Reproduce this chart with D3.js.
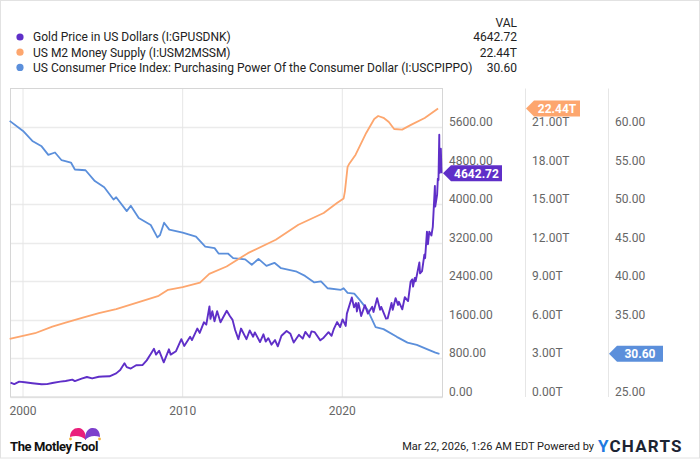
<!DOCTYPE html>
<html>
<head>
<meta charset="utf-8">
<script src="https://cdn.jsdelivr.net/npm/d3@7"></script>
<style>
  body { margin: 0; background: #fff; }
  svg { font-family: Roboto, "Noto Sans", sans-serif; }
  .tick-label { fill: #666; font-size: 12px; }
  .legend { fill: #222; font-size: 12px; }
</style>
</head>
<body>
<div id="canvas-wrapper"></div>
<script>
// series: [date, value]
var goldData = [
  ["1999-03-20", 297], ["1999-06-15", 268], ["1999-10-05", 318], ["2000-02-10", 305],
  ["2000-08-01", 285], ["2001-03-01", 264], ["2001-07-01", 268], ["2001-11-01", 290],
  ["2002-05-01", 318], ["2002-09-01", 332], ["2003-02-01", 360], ["2003-04-01", 330],
  ["2003-09-01", 380], ["2004-01-01", 415], ["2004-05-01", 385], ["2004-10-01", 420],
  ["2005-01-01", 425], ["2005-06-01", 430], ["2005-11-01", 490], ["2006-02-01", 560],
  ["2006-05-10", 700], ["2006-07-01", 620], ["2006-10-01", 590], ["2007-02-01", 660],
  ["2007-07-01", 665], ["2007-10-01", 760], ["2008-01-01", 890], ["2008-03-15", 1000],
  ["2008-05-01", 880], ["2008-07-10", 960], ["2008-10-25", 720], ["2009-02-20", 990],
  ["2009-04-01", 880], ["2009-08-01", 950], ["2009-12-01", 1200], ["2010-02-05", 1060],
  ["2010-06-20", 1250], ["2010-08-01", 1180], ["2010-12-01", 1420], ["2011-01-25", 1330],
  ["2011-05-01", 1550], ["2011-06-25", 1500], ["2011-09-05", 1880], ["2011-09-28", 1620],
  ["2011-11-10", 1780], ["2011-12-30", 1570], ["2012-02-28", 1780], ["2012-05-15", 1550],
  ["2012-10-05", 1790], ["2012-12-15", 1680], ["2013-02-15", 1600], ["2013-04-15", 1390],
  ["2013-06-28", 1200], ["2013-08-28", 1420], ["2013-12-30", 1200], ["2014-03-15", 1380],
  ["2014-06-01", 1250], ["2014-07-10", 1340], ["2014-11-05", 1140], ["2015-01-22", 1300],
  ["2015-03-15", 1150], ["2015-05-15", 1220], ["2015-07-25", 1085], ["2015-10-15", 1180],
  ["2015-12-17", 1050], ["2016-03-10", 1270], ["2016-07-06", 1370], ["2016-10-01", 1310],
  ["2016-12-15", 1130], ["2017-04-15", 1290], ["2017-07-10", 1210], ["2017-09-08", 1350],
  ["2017-12-12", 1240], ["2018-01-25", 1360], ["2018-04-10", 1345], ["2018-08-16", 1175],
  ["2018-11-01", 1230], ["2019-02-20", 1345], ["2019-05-01", 1270], ["2019-06-25", 1420],
  ["2019-09-04", 1555], ["2019-11-12", 1450], ["2020-01-08", 1610], ["2020-03-19", 1475],
  ["2020-04-15", 1730], ["2020-08-06", 2065], ["2020-09-25", 1860], ["2020-11-10", 1950],
  ["2020-11-30", 1775], ["2021-01-05", 1950], ["2021-03-08", 1680], ["2021-06-01", 1905],
  ["2021-08-09", 1730], ["2021-11-16", 1870], ["2021-12-15", 1765], ["2022-03-08", 2050],
  ["2022-05-15", 1810], ["2022-06-10", 1870], ["2022-09-28", 1625], ["2022-11-03", 1630],
  ["2023-02-01", 1950], ["2023-02-28", 1810], ["2023-05-04", 2050], ["2023-06-29", 1910],
  ["2023-07-20", 1975], ["2023-10-05", 1820], ["2023-12-01", 2070], ["2024-02-14", 1990],
  ["2024-04-12", 2390], ["2024-05-20", 2440], ["2024-06-07", 2290], ["2024-07-17", 2470],
  ["2024-08-05", 2400], ["2024-10-30", 2790], ["2024-11-14", 2565], ["2024-12-30", 2610],
  ["2025-02-20", 2950], ["2025-03-10", 2880], ["2025-04-21", 3430], ["2025-05-14", 3170],
  ["2025-06-13", 3430], ["2025-08-01", 3350], ["2025-09-02", 3530], ["2025-10-20", 4380],
  ["2025-10-28", 3950], ["2025-12-10", 4200], ["2025-12-26", 4530], ["2026-01-10", 4500],
  ["2026-01-28", 5440], ["2026-02-02", 4650], ["2026-02-12", 5050], ["2026-02-26", 4980],
  ["2026-03-05", 5150], ["2026-03-20", 4642.72]
];

var m2Data = [
  ["1999-03-01", 4.52], ["2000-10-01", 4.96], ["2001-11-01", 5.48], ["2002-09-01", 5.79],
  ["2003-10-01", 6.18], ["2004-10-01", 6.52], ["2005-11-01", 6.83], ["2007-04-01", 7.38],
  ["2008-07-01", 7.87], ["2009-02-01", 8.34], ["2010-01-01", 8.55], ["2011-02-01", 8.90],
  ["2011-09-01", 9.58], ["2012-10-01", 10.15], ["2014-02-01", 11.19], ["2015-11-01", 12.23],
  ["2017-04-01", 13.40], ["2018-11-01", 14.31], ["2019-09-01", 15.09], ["2020-02-01", 15.45],
  ["2020-03-01", 16.00], ["2020-05-01", 17.90], ["2020-06-01", 18.10], ["2020-11-01", 18.85],
  ["2021-07-01", 20.54], ["2022-01-01", 21.63], ["2022-04-01", 21.86], ["2022-08-01", 21.72],
  ["2022-12-01", 21.40], ["2023-04-01", 20.85], ["2023-10-01", 20.80], ["2024-05-01", 21.19],
  ["2025-03-01", 21.71], ["2026-01-01", 22.44]
];

var cpiData = [
  ["1999-03-01", 60.8], ["2000-01-01", 59.5], ["2000-08-01", 58.2], ["2001-03-01", 57.5],
  ["2001-08-01", 56.4], ["2002-01-01", 56.7], ["2002-06-01", 55.7], ["2003-01-01", 55.4],
  ["2003-04-01", 54.5], ["2003-12-01", 54.4], ["2004-07-01", 53.0], ["2005-02-01", 52.2],
  ["2005-09-01", 50.6], ["2005-11-01", 50.9], ["2006-07-01", 49.1], ["2006-10-01", 49.8],
  ["2007-04-01", 48.2], ["2008-01-01", 47.3], ["2008-06-01", 45.7], ["2008-08-01", 46.0],
  ["2008-11-01", 47.6], ["2009-03-01", 46.7], ["2010-01-01", 46.3], ["2010-11-01", 45.8],
  ["2011-06-01", 44.5], ["2012-01-01", 44.3], ["2012-04-01", 43.6], ["2012-11-01", 43.6],
  ["2013-03-01", 43.0], ["2013-12-01", 42.85], ["2014-05-01", 42.15], ["2014-10-01", 42.9],
  ["2015-04-01", 42.0], ["2015-10-01", 42.4], ["2016-03-01", 41.7], ["2017-02-01", 41.3],
  ["2017-09-01", 40.7], ["2018-04-01", 39.85], ["2018-09-01", 40.0], ["2019-02-01", 39.1],
  ["2019-12-01", 38.9], ["2020-02-01", 39.1], ["2020-05-01", 38.5], ["2020-10-01", 38.4],
  ["2021-02-01", 37.6], ["2021-08-01", 36.3], ["2022-02-01", 34.05], ["2022-08-01", 33.8],
  ["2023-06-01", 32.8], ["2024-02-01", 32.05], ["2024-09-01", 31.75], ["2025-06-01", 31.1],
  ["2025-11-01", 30.75], ["2026-02-01", 30.6]
];

var seriesNames = [
  "Gold Price in US Dollars (I:GPUSDNK)",
  "US M2 Money Supply (I:USM2MSSM)",
  "US Consumer Price Index: Purchasing Power Of the Consumer Dollar (I:USCPIPPO)"
];
var lastValues = ["4642.72", "22.44T", "30.60"];
var colors = ["#5f2fc8", "#fda66e", "#5b8fdb"];

var goldTicks = [0, 800, 1600, 2400, 3200, 4000, 4800, 5600];
var m2Ticks = [0, 3, 6, 9, 12, 15, 18, 21];
// 30.00 sits under the last-value tag in the original, so it is not labelled
var cpiTicks = [25, 35, 40, 45, 50, 55, 60];
var yearTicks = ["2000", "2010", "2020"];

var W = 700, H = 459;
var plot = {left: 10.5, top: 88.5, right: 442.5, bottom: 397};

var parse = d3.timeParse("%Y-%m-%d");
function prep(arr) { return arr.map(function(d) { return {date: parse(d[0]), value: d[1]}; }); }
var gold = prep(goldData), m2 = prep(m2Data), cpi = prep(cpiData);

var x = d3.scaleTime()
  .domain([parse("1999-03-20"), parse("2026-03-20")])
  .range([plot.left, plot.right - 1]);
var yGold = d3.scaleLinear().domain([0, 6400]).range([plot.bottom, plot.top]);
var yM2 = d3.scaleLinear().domain([0, 24]).range([plot.bottom, plot.top]);
var yCpi = d3.scaleLinear().domain([25, 65]).range([plot.bottom, plot.top]);

var svg = d3.select("#canvas-wrapper").append("svg")
  .attr("width", W).attr("height", H);

svg.append("rect").attr("x", 0.5).attr("y", 0.5).attr("width", W - 1).attr("height", H - 1.5)
  .attr("fill", "#fff").attr("stroke", "#e2e2e2");

// gridlines
svg.append("g").selectAll("line").data(goldTicks).enter().append("line")
  .attr("x1", plot.left).attr("x2", plot.right)
  .attr("y1", function(d) { return Math.round(yGold(d)) + 0.5; })
  .attr("y2", function(d) { return Math.round(yGold(d)) + 0.5; })
  .attr("stroke", "#ebebeb").attr("stroke-width", 1.3);

svg.append("g").selectAll("line").data(yearTicks).enter().append("line")
  .attr("x1", function(d) { return x(d3.timeParse("%Y")(d)); })
  .attr("x2", function(d) { return x(d3.timeParse("%Y")(d)); })
  .attr("y1", plot.top).attr("y2", plot.bottom)
  .attr("stroke", "#e6e6e6").attr("stroke-width", 1);

// frame
svg.append("rect").attr("x", plot.left).attr("y", plot.top)
  .attr("width", plot.right - plot.left).attr("height", plot.bottom - plot.top)
  .attr("fill", "none").attr("stroke", "#d6d6d6");

// right axis separators
[525.5, 608.5].forEach(function(sx) {
  svg.append("line").attr("x1", sx).attr("x2", sx)
    .attr("y1", plot.top).attr("y2", plot.bottom)
    .attr("stroke", "#e6e6e6");
});

// lines
function lineFor(scale) {
  return d3.line()
    .x(function(d) { return x(d.date); })
    .y(function(d) { return scale(d.value); });
}
svg.append("path").datum(cpi).attr("d", lineFor(yCpi))
  .attr("fill", "none").attr("stroke", colors[2]).attr("stroke-width", 1.8).attr("stroke-linejoin", "round");
svg.append("path").datum(m2).attr("d", lineFor(yM2))
  .attr("fill", "none").attr("stroke", colors[1]).attr("stroke-width", 1.8).attr("stroke-linejoin", "round");
svg.append("path").datum(gold).attr("d", lineFor(yGold))
  .attr("fill", "none").attr("stroke", colors[0]).attr("stroke-width", 1.9).attr("stroke-linejoin", "round");

// right axes labels
function axisLabels(ticks, scale, lx, fmt) {
  svg.append("g").selectAll("text").data(ticks).enter().append("text")
    .attr("class", "tick-label")
    .attr("x", lx)
    .attr("y", function(d) { return scale(d) - 1; })
    .text(fmt);
}
axisLabels(goldTicks, yGold, 449, function(d) { return d3.format(".2f")(d); });
axisLabels(m2Ticks, yM2, 532, function(d) { return d3.format(".2f")(d) + "T"; });
axisLabels(cpiTicks, yCpi, 615, function(d) { return d3.format(".2f")(d); });

// x axis labels
svg.append("g").selectAll("text").data(yearTicks).enter().append("text")
  .attr("class", "tick-label")
  .attr("x", function(d) { return x(d3.timeParse("%Y")(d)); })
  .attr("y", 415)
  .attr("text-anchor", "middle")
  .text(function(d) { return d; });

// value tags
function tag(tipX, cy, w, color, label) {
  var h = 16, a = 8;
  var g = svg.append("g");
  g.append("path")
    .attr("d", "M" + tipX + "," + cy + "L" + (tipX + a) + "," + (cy - h / 2) +
      "H" + (tipX + a + w) + "V" + (cy + h / 2) + "H" + (tipX + a) + "Z")
    .attr("fill", color);
  g.append("text").attr("x", tipX + a + w / 2).attr("y", cy + 4.5)
    .attr("text-anchor", "middle").attr("fill", "#fff")
    .attr("font-size", "12px").attr("font-weight", "bold")
    .text(label);
}
tag(443, yGold(4642.72), 51, colors[0], lastValues[0]);
tag(526, yM2(22.44), 46, colors[1], lastValues[1]);
tag(609, yCpi(30.60), 46, colors[2], lastValues[2]);

// legend
var legend = svg.append("g");
legend.append("text").attr("class", "legend").attr("x", 517).attr("y", 27)
  .attr("text-anchor", "end").text("VAL");
seriesNames.forEach(function(name, i) {
  var cy = 37 + i * 15.2;
  legend.append("circle").attr("cx", 20).attr("cy", cy).attr("r", 3.6).attr("fill", colors[i]);
  legend.append("text").attr("class", "legend").attr("x", 33).attr("y", cy + 4.3).text(name);
  legend.append("text").attr("class", "legend").attr("x", 517).attr("y", cy + 4.3)
    .attr("text-anchor", "end").text(lastValues[i]);
});

// footer: Motley Fool mark (jester cap)
var fool = svg.append("g");
fool.append("path")
  .attr("d", "M70,437 C70,431 74,427.5 79,428 C83,428.5 86,432 86,440 C82,436 76,435 70,437 Z")
  .attr("fill", "#ea1f7b");
fool.append("path")
  .attr("d", "M85,440 C85,432 88,428.5 92,428 C97,427.5 100,431 100,437 C94,435 89,436 85,440 Z")
  .attr("fill", "#7d3fcc");
fool.append("circle").attr("cx", 70.5).attr("cy", 439).attr("r", 1.4).attr("fill", "#f3b33a");
fool.append("circle").attr("cx", 99.5).attr("cy", 439).attr("r", 1.4).attr("fill", "#f3b33a");
fool.append("text").attr("x", 10).attr("y", 451)
  .attr("font-size", "13px").attr("font-weight", "bold").attr("fill", "#111")
  .attr("letter-spacing", "-0.4px")
  .text("The Motley Fool");

// footer: timestamp and YCharts
svg.append("text").attr("x", 594).attr("y", 450)
  .attr("text-anchor", "end").attr("font-size", "11px").attr("fill", "#222")
  .text("Mar 22, 2026, 1:26 AM EDT Powered by");
var yc = svg.append("text").attr("x", 598).attr("y", 452)
  .attr("font-size", "17px").attr("font-weight", "bold").attr("letter-spacing", "1.2px");
yc.append("tspan").attr("fill", "#1f7ae0").text("Y");
yc.append("tspan").attr("fill", "#1c2433").text("CHARTS");
</script>
</body>
</html>
